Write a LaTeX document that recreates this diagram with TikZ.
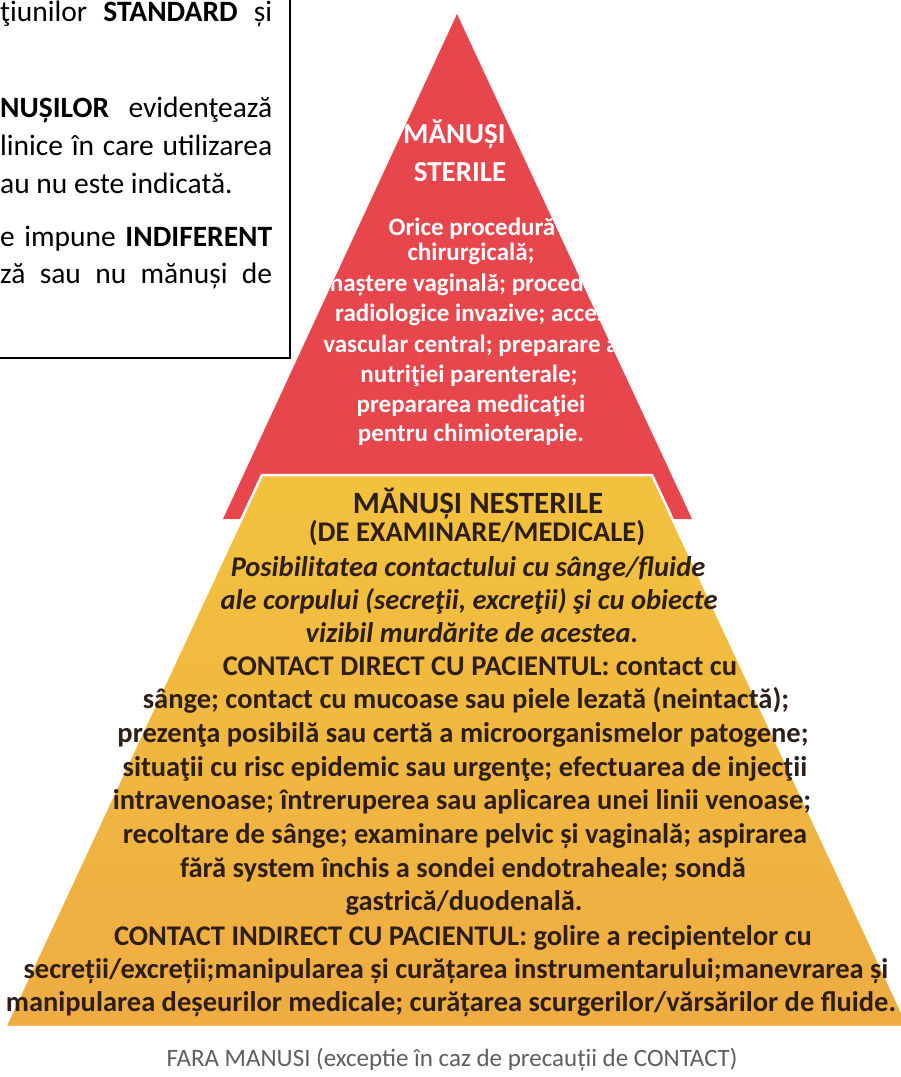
\documentclass[tikz,border=0pt]{standalone}
\usepackage{fontspec}
\setmainfont{Carlito}
\definecolor{redtri}{RGB}{232,70,77}
\definecolor{ytop}{RGB}{242,194,62}
\definecolor{ybot}{RGB}{238,172,66}
\definecolor{ytext}{RGB}{46,30,24}
\definecolor{graytext}{RGB}{95,95,95}
\tikzset{
  boxtxt/.style={anchor=base west, font=\fontsize{29.5}{34}\selectfont, text=black, inner sep=0pt},
  redtitle/.style={anchor=base, font=\fontsize{29}{34}\selectfont\bfseries, text=white, inner sep=0pt},
  redbody/.style={anchor=base, font=\fontsize{25}{30}\selectfont\bfseries, text=white, inner sep=0pt},
  yhead/.style={anchor=base, font=\fontsize{31}{36}\selectfont\bfseries, text=ytext, inner sep=0pt},
  ybody/.style={anchor=base, font=\fontsize{28.5}{34}\selectfont\bfseries, text=ytext, inner sep=0pt},
  yital/.style={anchor=base, font=\fontsize{28.5}{34}\selectfont\bfseries\itshape, text=ytext, inner sep=0pt},
  foot/.style={anchor=base, font=\fontsize{25}{30}\selectfont, text=graytext, inner sep=0pt},
  framebox/.style={draw=black, line width=1.3pt},
}
\newcommand{\spreadline}[2]{\makebox[#1][s]{#2}}
\begin{document}
\begin{tikzpicture}[x=1pt,y=-1pt]
\useasboundingbox (0,0) rectangle (901,1077);
\clip (0,0) rectangle (901,1077);
\fill[white] (0,0) rectangle (901,1077);

% text frame (cut by the page edge)
\draw[framebox] (-20,-20) rectangle (290,358);
\node[boxtxt] (b1) at (0,21) {\spreadline{272pt}{ţiunilor \textbf{STANDARD} și}};
\node[boxtxt] (b2) at (0,117) {\spreadline{272pt}{\textbf{NUȘILOR} evidenţează}};
\node[boxtxt] (b3) at (0,155) {\spreadline{272pt}{linice în care utilizarea}};
\node[boxtxt] (b4) at (0,193) {au nu este indicată.};
\node[boxtxt] (b5) at (0,246) {\spreadline{272pt}{e impune \textbf{INDIFERENT}}};
\node[boxtxt] (b6) at (0,283) {\spreadline{272pt}{ză sau nu mănuși de}};

% red triangle
\coordinate (apex) at (457,14);
\coordinate (rr) at (692,519);
\coordinate (rl) at (223,519);
\fill[redtri] (apex) -- (rr) -- (rl) -- cycle;
\begin{scope}
\clip (apex) -- (rr) -- (rl) -- cycle;
\node[redtitle, anchor=base west] (r0) at (403,143) {MĂNUȘI};
\node[redtitle] (r1) at (460,181) {STERILE};
\node[redbody] (r2) at (472,235) {Orice procedură};
\node[redbody] (r3) at (471,260) {chirurgicală;};
\node[redbody] (r4) at (471,291) {naștere vaginală; proceduri};
\node[redbody] (r5) at (471,321) {radiologice invazive; acces};
\node[redbody] (r6) at (471,352) {vascular central; preparare a};
\node[redbody] (r7) at (469,382) {nutriţiei parenterale;};
\node[redbody] (r8) at (471,412) {prepararea medicaţiei};
\node[redbody] (r9) at (471,441) {pentru chimioterapie.};
\end{scope}

% yellow trapezoid
\coordinate (ytl) at (262,475);
\coordinate (ytr) at (652,475);
\coordinate (ybr) at (909,1027);
\coordinate (ybl) at (5,1027);
\shade[top color=ytop, bottom color=ybot] (ytl) -- (ytr) -- (ybr) -- (ybl) -- cycle;
\draw[white, line width=2.5pt, line join=miter] (ytl) -- (ytr) -- (ybr) -- (ybl) -- cycle;

\node[yhead] (y1) at (478,513) {MĂNUȘI NESTERILE};
\node[ybody] (y2) at (477,541) {(DE EXAMINARE/MEDICALE)};
\node[yital] (y3) at (468,576) {Posibilitatea contactului cu sânge/fluide};
\node[yital] (y4) at (469,609) {ale corpului (secreţii, excreţii) şi cu obiecte};
\node[yital] (y5) at (472,642) {vizibil murdărite de acestea.};
\node[ybody] (y6) at (480,675) {CONTACT DIRECT CU PACIENTUL: contact cu};
\node[ybody] (y7) at (466,708) {sânge; contact cu mucoase sau piele lezată (neintactă);};
\node[ybody] (y8) at (463,742) {prezenţa posibilă sau certă a microorganismelor patogene;};
\node[ybody] (y9) at (465,776) {situaţii cu risc epidemic sau urgenţe; efectuarea de injecţii};
\node[ybody] (y10) at (462,809) {intravenoase; întreruperea sau aplicarea unei linii venoase;};
\node[ybody] (y11) at (465,843) {recoltare de sânge; examinare pelvic și vaginală; aspirarea};
\node[ybody] (y12) at (463,877) {fără system închis a sondei endotraheale; sondă};
\node[ybody] (y13) at (464,910) {gastrică/duodenală.};
\node[ybody] (y14) at (463,945) {CONTACT INDIRECT CU PACIENTUL: golire a recipientelor cu};
\node[ybody] (y15) at (456,978) {secreții/excreții;manipularea și curățarea instrumentarului;manevrarea și};
\node[ybody] (y16) at (451,1011) {manipularea deșeurilor medicale; curățarea scurgerilor/vărsărilor de fluide.};

\node[foot] (f1) at (452,1066) {FARA MANUSI (exceptie în caz de precauții de CONTACT)};
\end{tikzpicture}
\end{document}
